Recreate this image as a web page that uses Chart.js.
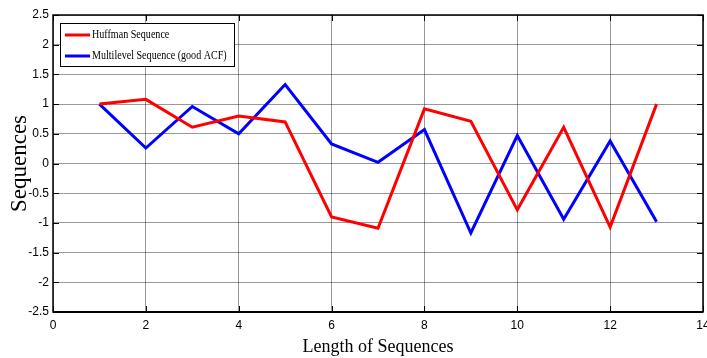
<!DOCTYPE html>
<html>
<head>
<meta charset="utf-8">
<script src="https://cdn.jsdelivr.net/npm/chart.js@4"></script>
<style>
  html, body { margin: 0; padding: 0; background: #fff; }
  #wrap { width: 707px; height: 358px; position: relative; }
</style>
</head>
<body>
<div id="wrap"><canvas id="myChart"></canvas></div>
<script>
const xValues = [1, 2, 3, 4, 5, 6, 7, 8, 9, 10, 11, 12, 13];
const huffman = [1.0, 1.08, 0.61, 0.80, 0.70, -0.90, -1.09, 0.92, 0.71, -0.78, 0.61, -1.07, 1.0];
const multilevel = [1.0, 0.26, 0.96, 0.50, 1.33, 0.33, 0.02, 0.57, -1.17, 0.47, -0.94, 0.38, -0.98];
const xTicks = [0, 2, 4, 6, 8, 10, 12, 14];
const yTicks = [-2.5, -2, -1.5, -1, -0.5, 0, 0.5, 1, 1.5, 2, 2.5];
const seriesNames = ['Huffman Sequence', 'Multilevel Sequence (good ACF)'];

const tickFont = { family: '"Liberation Sans Narrow", "Liberation Sans", Arial', size: 12 };
const serif = '"Liberation Serif", "Times New Roman", serif';

// box, inner ticks on all sides, and the legend box
const framePlugin = {
   id: 'frame',
   afterDraw(chart) {
      const { ctx, chartArea: a, scales } = chart;
      ctx.save();
      ctx.strokeStyle = '#000';
      ctx.lineWidth = 1;
      ctx.beginPath();
      xTicks.forEach(v => {
         const px = Math.round(scales.x.getPixelForValue(v)) + 0.5;
         ctx.moveTo(px, a.top); ctx.lineTo(px, a.top + 6);
         ctx.moveTo(px, a.bottom); ctx.lineTo(px, a.bottom - 6);
      });
      yTicks.forEach(v => {
         const py = Math.round(scales.y.getPixelForValue(v)) + 0.5;
         ctx.moveTo(a.right, py); ctx.lineTo(a.right - 6, py);
         ctx.moveTo(a.left, py); ctx.lineTo(a.left + 6, py);
      });
      ctx.stroke();
      ctx.lineWidth = 1.5;
      ctx.strokeRect(a.left, a.top, a.right - a.left, a.bottom - a.top);
      ctx.lineWidth = 2;
      ctx.beginPath();
      ctx.moveTo(a.left, a.bottom); ctx.lineTo(a.right, a.bottom);
      ctx.stroke();

      // legend
      const lx = a.left + 7, ly = a.top + 8, lw = 174, lh = 43;
      ctx.fillStyle = '#fff';
      ctx.fillRect(lx, ly, lw, lh);
      ctx.lineWidth = 1;
      ctx.strokeStyle = '#000';
      ctx.strokeRect(lx + 0.5, ly + 0.5, lw, lh);
      ctx.font = '12px ' + serif;
      ctx.textBaseline = 'middle';
      chart.data.datasets.forEach((ds, i) => {
         const cy = ly + 12 + i * 21;
         ctx.strokeStyle = ds.borderColor;
         ctx.lineWidth = 3;
         ctx.beginPath();
         ctx.moveTo(lx + 5, cy); ctx.lineTo(lx + 30, cy);
         ctx.stroke();
         ctx.fillStyle = '#000';
         ctx.save();
         ctx.translate(lx + 32, cy);
         ctx.scale(0.84, 1);
         ctx.fillText(ds.label, 0, 0);
         ctx.restore();
      });
      ctx.restore();
   }
};

const data = {
   datasets: [
      {
         label: seriesNames[0],
         data: xValues.map((x, i) => ({ x, y: huffman[i] })),
         borderColor: '#ff0000',
         borderWidth: 3,
         pointRadius: 0,
         tension: 0,
      },
      {
         label: seriesNames[1],
         data: xValues.map((x, i) => ({ x, y: multilevel[i] })),
         borderColor: '#0000ff',
         borderWidth: 3,
         pointRadius: 0,
         tension: 0,
      }
   ]
};

const config = {
   type: 'line',
   data: data,
   options: {
      responsive: true,
      maintainAspectRatio: false,
      animation: false,
      layout: { padding: { top: 15, right: 4, left: 0, bottom: 0 } },
      scales: {
         x: {
            type: 'linear',
            min: 0,
            max: 14,
            afterBuildTicks: s => { s.ticks = xTicks.map(v => ({ value: v })); },
            afterFit: s => { s.height = 46; s.paddingLeft = 0; s.paddingRight = 0; },
            grid: { color: 'rgba(0,0,0,0.4)', drawTicks: false },
            border: { display: false },
            ticks: { color: '#000', font: tickFont, padding: 6, maxRotation: 0 },
            title: {
               display: true,
               text: 'Length of Sequences',
               color: '#000',
               font: { family: serif, size: 18 },
               padding: { top: 0, bottom: 0 },
            }
         },
         y: {
            min: -2.5,
            max: 2.5,
            afterBuildTicks: s => { s.ticks = yTicks.map(v => ({ value: v })); },
            afterFit: s => { s.width = 53; s.paddingTop = 0; s.paddingBottom = 0; },
            grid: { color: 'rgba(0,0,0,0.4)', drawTicks: false },
            border: { display: false },
            ticks: {
               color: '#000',
               font: tickFont,
               padding: 4,
               callback: v => String(v),
            },
            title: {
               display: true,
               text: 'Sequences',
               color: '#000',
               font: { family: serif, size: 23 },
               padding: { top: 6, bottom: 0 },
            }
         }
      },
      plugins: {
         legend: { display: false },
         tooltip: { enabled: false },
      }
   },
   plugins: [framePlugin]
};

const myChart = new Chart(document.getElementById('myChart'), config);
</script>
</body>
</html>
